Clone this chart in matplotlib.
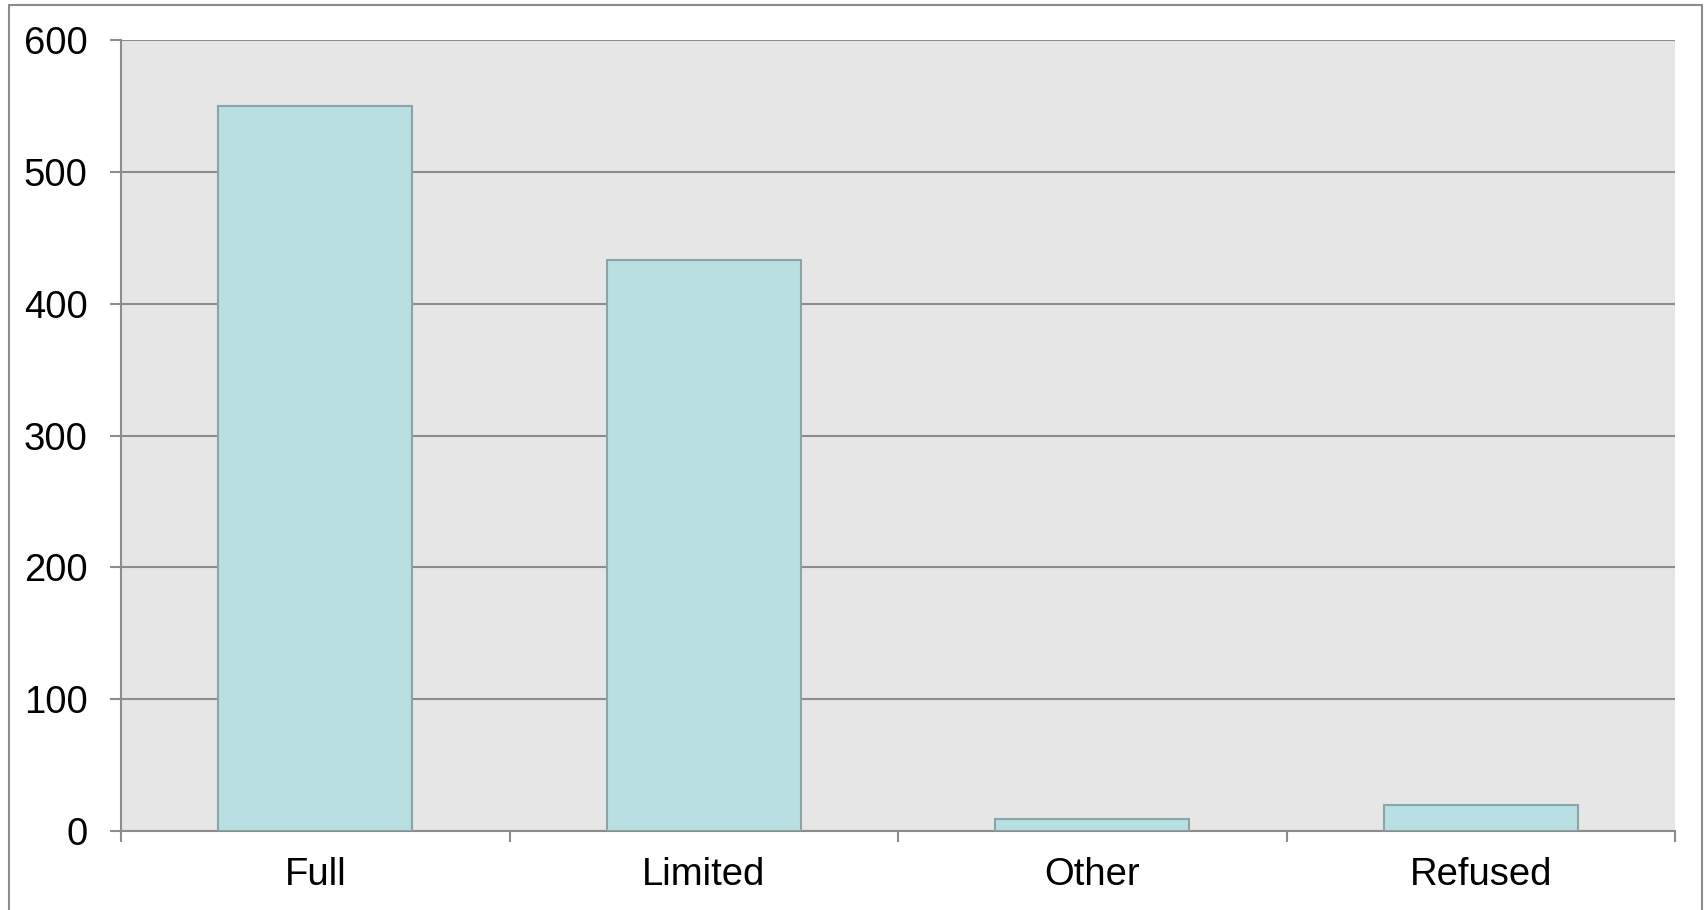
import matplotlib.pyplot as plt
import matplotlib.patches as patches
import numpy as np

categories = ['Full', 'Limited', 'Other', 'Refused']
counts = [550, 433, 9, 20]
yticks = [0, 100, 200, 300, 400, 500, 600]

plt.rcParams['font.family'] = ['Liberation Sans', 'DejaVu Sans']

fig = plt.figure(figsize=(17.04, 9.10), dpi=100)
ax = fig.add_axes([121/1704, 1-831/910, (1675-121)/1704, (831-40)/910])

# outer frame of the chart
fig.patches.append(patches.Rectangle((9/1704, -0.01), (1702-9)/1704, 1-5/910+0.01,
                                     transform=fig.transFigure, fill=False,
                                     edgecolor='#8c8c8c', linewidth=1.5))

ax.set_facecolor('#e6e6e6')
x = np.arange(len(categories)) + 0.5
ax.bar(x, counts, width=0.5, color='#b8dfe2', edgecolor='#8aa5a8', linewidth=1.5, zorder=3)

ax.set_xlim(0, len(categories))
ax.set_ylim(0, 600)
ax.set_yticks(yticks)
ax.yaxis.grid(True, color='#8c8c8c', linewidth=1.5, zorder=1)
ax.set_axisbelow(True)

# category labels in the middle, tick marks on the boundaries
ax.set_xticks(x)
ax.set_xticklabels(categories)
ax.set_xticks(np.arange(len(categories) + 1), minor=True)
ax.tick_params(axis='x', which='major', length=0, pad=19, labelsize=27.5)
ax.tick_params(axis='x', which='minor', length=8, width=1.5, color='#8c8c8c', direction='out')
ax.tick_params(axis='y', length=8, width=1.5, color='#8c8c8c', pad=16, labelsize=27.5)

for s in ['top', 'right']:
    ax.spines[s].set_visible(False)
for s in ['left', 'bottom']:
    ax.spines[s].set_color('#8c8c8c')
    ax.spines[s].set_linewidth(1.5)

fig.savefig('out.png', dpi=100)
